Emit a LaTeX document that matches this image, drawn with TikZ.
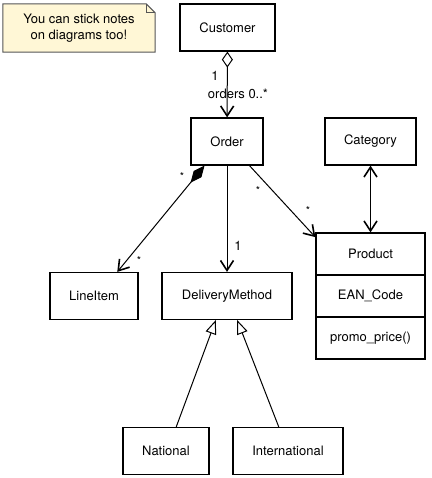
\documentclass[tikz,border=0pt]{standalone}
\usepackage{fontspec}
\setmainfont{TeX Gyre Heros}
\usetikzlibrary{arrows.meta,backgrounds}
\definecolor{notefill}{HTML}{FFF7D6}
\definecolor{noteline}{HTML}{555555}
\tikzset{
    umlbox/.style={draw, line width=1.2pt, minimum height=47pt, inner sep=0pt},
    notebox/.style={inner sep=0pt, minimum width=152pt, minimum height=48pt, align=center},
    assoc/.style={line width=1pt},
    stick/.style={-{Straight Barb[length=10pt,width=13pt,line width=1.6pt]}},
    mult/.style={inner sep=1pt, font=\fontsize{11}{13}\selectfont}
}
\begin{document}
\begin{tikzpicture}[x=1pt, y=-1pt, font=\fontsize{13}{16}\selectfont]
\useasboundingbox (0,0) rectangle (431,478);

\node[notebox] (note) at (79,28) {You can stick notes\\on diagrams too!};
\begin{scope}[on background layer]
\draw[fill=notefill, draw=noteline, line width=1pt] (note.south west) -- (note.south east)
    -- ([yshift=-9pt]note.north east) -- ([xshift=-9pt]note.north east) -- (note.north west) -- cycle;
\draw[draw=noteline, line width=0.8pt] ([xshift=-9pt]note.north east) -- ([xshift=-9pt,yshift=-9pt]note.north east) -- ([yshift=-9pt]note.north east);
\end{scope}

\node[umlbox, minimum width=95pt] (customer) at (227.5,27.5) {Customer};
\node[umlbox, minimum width=72pt] (order) at (227,141.5) {Order};
\node[umlbox, minimum width=91pt] (category) at (370.5,141.5) {Category};
\node[umlbox, minimum width=109pt, minimum height=42pt] (product) at (370.5,254) {Product};
\node[umlbox, minimum width=109pt, minimum height=42pt] (ean) at (370.5,296) {EAN\_Code};
\node[umlbox, minimum width=109pt, minimum height=42pt] (promo) at (370.5,338) {promo\_price()};
\node[umlbox, minimum width=88pt] (lineitem) at (94,296) {LineItem};
\node[umlbox, minimum width=130pt] (delivery) at (227,296) {DeliveryMethod};
\node[umlbox, minimum width=86pt] (national) at (166,451) {National};
\node[umlbox, minimum width=110pt] (international) at (288,451) {International};

% associations
\draw[assoc, {Diamond[open,length=16pt,width=11pt,line width=1pt]}-{Straight Barb[length=10pt,width=13pt,line width=1.6pt]}] (customer) -- (order);
\draw[assoc, {Diamond[length=22pt,width=10pt]}-{Straight Barb[length=10pt,width=13pt,line width=1.6pt]}] (order.-133) -- (lineitem.46);
\draw[assoc, stick] (order) -- (delivery);
\draw[assoc, stick] (order.-47) -- (product.163);
\draw[assoc, {Straight Barb[length=10pt,width=13pt,line width=1.6pt]}-{Straight Barb[length=10pt,width=13pt,line width=1.6pt]}] (category) -- (product);

% generalisations
\draw[assoc, -{Triangle[open,length=14pt,width=11pt,line width=1pt]}] (national.67) -- (delivery.-115);
\draw[assoc, -{Triangle[open,length=14pt,width=11pt,line width=1pt]}] (international.111) -- (delivery.-67);

\node[inner sep=1pt] (m1) at (215,76) {1};
\node[inner sep=1pt] (m2) at (238,94) {orders 0..*};
\node[mult] (m3) at (182,176) {*};
\node[mult] (m4) at (139,260) {*};
\node[inner sep=1pt] (m5) at (238,246) {1};
\node[mult] (m6) at (258,190) {*};
\node[mult] (m7) at (308,210) {*};
\end{tikzpicture}
\end{document}
